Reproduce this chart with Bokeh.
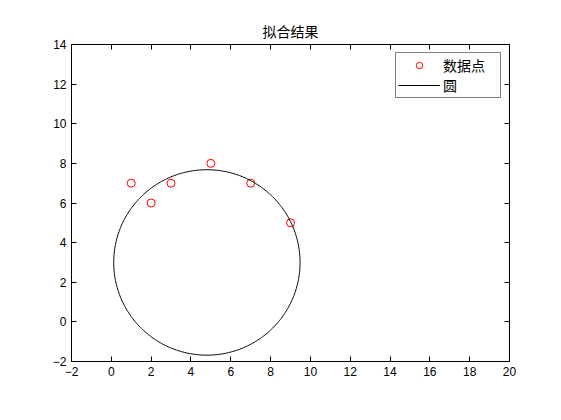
import numpy as np
from bokeh.plotting import figure
from bokeh.models import Range1d, LinearAxis, FixedTicker, Legend, LegendItem
from bokeh.embed import file_html
from bokeh.resources import INLINE

# data points
x_data = [1, 2, 3, 5, 7, 9]
y_data = [7, 6, 7, 8, 7, 5]

# fitted circle
circle_cx = 4.8
circle_cy = 3.0
circle_r = 4.68

x_ticks = list(range(-2, 21, 2))
y_ticks = list(range(-2, 15, 2))

title_text = "拟合结果"
label_points = "数据点"
label_circle = "圆"

p = figure(width=553, height=412, output_backend="svg", toolbar_location=None,
           x_range=Range1d(-2, 20), y_range=Range1d(-2, 14),
           x_axis_location=None, y_axis_location=None,
           min_border_left=71, min_border_right=44, min_border_top=44, min_border_bottom=51)
p.title.text = title_text
p.title.align = "center"
p.title.text_font = "Noto Sans CJK SC"
p.title.text_font_size = "14px"
p.title.text_font_style = "normal"
p.title.text_color = "black"
p.title.standoff = 8
p.grid.visible = False
p.outline_line_color = None
p.background_fill_color = "white"
p.border_fill_color = "white"

def mk_axis(ticks, labels):
    ax = LinearAxis(ticker=FixedTicker(ticks=ticks))
    ax.major_tick_in = 5
    ax.major_tick_out = 0
    ax.minor_tick_line_color = None
    ax.axis_line_color = "black"
    ax.major_tick_line_color = "black"
    ax.major_label_text_font = "Liberation Sans"
    ax.major_label_text_font_size = "12px"
    ax.major_label_text_color = "black"
    ax.major_label_standoff = 5
    if not labels:
        ax.major_label_text_color = None
    return ax

p.add_layout(mk_axis(x_ticks, True), "below")
p.add_layout(mk_axis(y_ticks, True), "left")
p.add_layout(mk_axis(x_ticks, False), "above")
p.add_layout(mk_axis(y_ticks, False), "right")

sc = p.scatter(x_data, y_data, marker="circle", size=8, fill_color=None,
               line_color="red", line_width=1)

t = np.linspace(0, 2 * np.pi, 400)
cx = circle_cx + circle_r * np.cos(t)
cy = circle_cy + circle_r * np.sin(t)
ln = p.line(cx, cy, line_color="black", line_width=1)

legend = Legend(items=[LegendItem(label=label_points, renderers=[sc]),
                       LegendItem(label=label_circle, renderers=[ln])],
                location="top_right")
legend.label_text_font = "Noto Sans CJK SC"
legend.label_text_font_size = "14px"
legend.label_text_color = "black"
legend.glyph_width = 42
legend.glyph_height = 16
legend.label_height = 16
legend.label_width = 55
legend.label_standoff = 3
legend.spacing = 0
legend.padding = 2
legend.margin = 8
legend.border_line_color = "black"
legend.border_line_width = 1
legend.background_fill_alpha = 1
p.add_layout(legend, "center")

open("out.html", "w").write(file_html(p, INLINE))
